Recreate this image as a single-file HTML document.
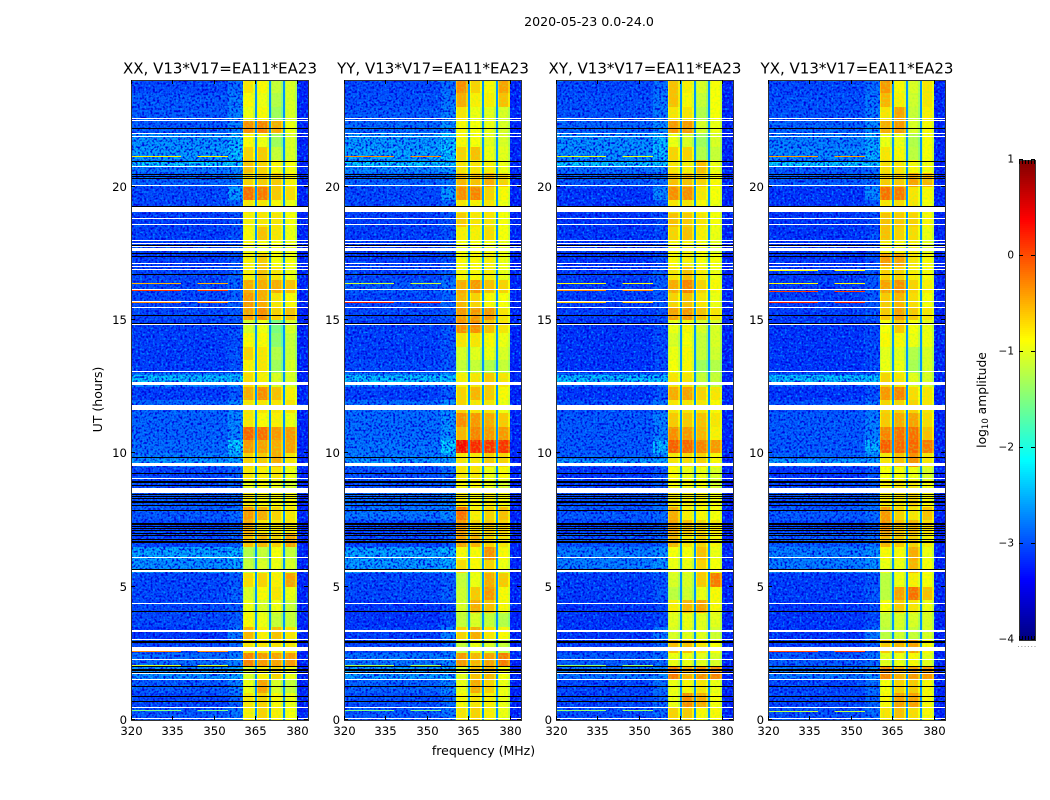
<!DOCTYPE html>
<html>
<head>
<meta charset="utf-8">
<title>2020-05-23 0.0-24.0</title>
<style>
html,body{margin:0;padding:0;background:#fff;width:1050px;height:800px;overflow:hidden}
svg{display:block}
text{font-family:"DejaVu Sans","Liberation Sans",sans-serif;fill:#000}
.tick{font-size:11.7px}
.ptitle{font-size:15px;text-anchor:middle}
</style>
</head>
<body>
<svg id="chart" width="1050" height="800" viewBox="0 0 1050 800" xmlns="http://www.w3.org/2000/svg">
<defs>
<filter id="speckle-light" x="0" y="0" width="1" height="1" color-interpolation-filters="sRGB">
<feTurbulence type="fractalNoise" baseFrequency="0.47" numOctaves="1" seed="3"/>
<feColorMatrix type="matrix" values="0 0 0 0 0  0 0 0 0 .55  0 0 0 0 1  4 0 0 0 -2.1"/>
</filter>
<filter id="speckle-dark" x="0" y="0" width="1" height="1" color-interpolation-filters="sRGB">
<feTurbulence type="fractalNoise" baseFrequency="0.47" numOctaves="1" seed="11"/>
<feColorMatrix type="matrix" values="0 0 0 0 0  0 0 0 0 0  0 0 0 0 .85  0 4 0 0 -1.8"/>
</filter>
<filter id="speckle-band" x="0" y="0" width="1" height="1" color-interpolation-filters="sRGB">
<feTurbulence type="fractalNoise" baseFrequency="0.47" numOctaves="1" seed="23"/>
<feColorMatrix type="matrix" values="0 0 0 0 .6  0 0 0 0 1  0 0 0 0 .2  1.3 0 0 0 -.58"/>
</filter>
</defs>
<text x="589" y="26" font-size="12.6" text-anchor="middle">2020-05-23 0.0-24.0</text>
<text x="483.5" y="755" font-size="12.5" text-anchor="middle">frequency (MHz)</text>
<text transform="translate(102,399.5) rotate(-90)" font-size="12.5" text-anchor="middle">UT (hours)</text>
<text transform="translate(986,400) rotate(-90)" font-size="12.3" text-anchor="middle">log<tspan font-size="8.5" dy="2">10</tspan><tspan dy="-2"> amplitude</tspan></text>
<g id="panels"></g>
<g id="colorbar"></g>
</svg>
<script>
// Each level array holds log10 amplitude per half-hour bin, from 0 UT upward.
const xxBackground=[-2.9,-3,-2.9,-2.6,-2.8,-3,-3.1,-3,-3,-3,-3,-2.6,-2.5,-3,-3,-2.9,-2.9,-3,-3,-2.7,-2.8,-2.85,-2.85,-2.85,-3.05,-2.7,-3.05,-3.05,-3.05,-3.05,-3,-3,-3,-3,-3.05,-3.05,-3.05,-3.05,-3,-3,-2.85,-2.75,-2.55,-2.6,-2.9,-2.9,-2.9,-3];
const xxBand1=[-.75,-.7,-.9,-1,-.2,-.7,-.45,-.8,-.9,-1,-.65,-1.1,-1.2,-.5,-.4,-.3,-.7,-.9,-.7,-.6,-.3,-.05,-.7,-.7,-.4,-.65,-.75,-.6,-.8,-1,-.35,-.3,-.4,-.75,-.75,-.8,-.8,-.75,-.7,-.1,-.6,-.5,-.6,-.8,-.25,-.9,-.8,-.7];
const xxBand2=[-.6,-.6,-.35,-.75,-.3,-.7,-.75,-.9,-1,-.8,-.6,-1,-1.1,-.45,-.7,-.4,-.8,-.8,-.75,-.55,-.35,-.1,-.8,-.7,-.25,-.75,-.7,-.7,-.8,-.9,-.25,-.4,-.4,-.5,-.55,-.85,-.5,-.7,-.7,-.15,-.55,-.6,-.55,-.9,-.2,-.8,-.9,-.8];
const xxBand3=[-.75,-.8,-1,-.6,-.35,-.7,-.5,-1.1,-.9,-.7,-.75,-.9,-.85,-.6,-.7,-.6,-.8,-.9,-.7,-.4,-.4,-.3,-.75,-.7,-.5,-1,-1.3,-1.2,-1.4,-1.5,-.6,-.7,-.4,-.7,-.85,-.85,-.7,-.7,-.8,-.55,-.55,-.8,-1.1,-1.3,-.4,-1.3,-1.2,-1.1];
const xxBand4=[-.85,-.9,-1.1,-.9,-.3,-.7,-.7,-1.1,-1.1,-.9,-.35,-1,-1.1,-.35,-.7,-.7,-.8,-1,-.9,-.7,-.35,-.3,-.9,-.7,-.75,-1,-1,-1.1,-1.1,-1,-.5,-.8,-.5,-.9,-.85,-.9,-.9,-.85,-.9,-.65,-.75,-.85,-1,-1,-.9,-1,-1,-1];

const yyBackground=[-2.9,-2.95,-2.85,-2.55,-2.75,-3,-3.05,-3.1,-3.1,-3,-3,-2.55,-2.5,-3,-3,-2.75,-2.8,-2.95,-2.95,-2.7,-2.75,-2.8,-2.8,-2.8,-3.05,-2.7,-3,-3.05,-3.05,-3.05,-3,-3,-2.9,-3,-3.05,-3.05,-3.05,-3.05,-3,-3,-2.85,-2.65,-2.5,-2.55,-2.8,-2.9,-2.95,-3];
const yyBand1=[-.7,-.8,-.9,-.95,-.3,-1.1,-.6,-1.1,-1,-1.05,-1.1,-.65,-.8,-.35,-.3,-.1,-.7,-.8,-.7,-.7,.45,-.45,-.25,-.6,-.6,-.75,-1.1,-1,-.7,-.25,-.3,-.45,-.4,-.8,-.8,-.85,-.75,-.55,-.7,-.25,-.45,-.7,-.6,-.8,-.8,-.7,-.4,-.25];
const yyBand2=[-.6,-.7,-.4,-.5,-.45,-.9,-.4,-1,-.4,-.55,-.9,-.8,-.8,-.45,-.6,-.75,-.8,-.8,-.7,-.7,.25,-.2,-.3,-.7,-.45,-.7,-1.1,-.95,-.7,-.25,-.3,-.6,-.3,-.8,-.8,-.85,-.75,-.7,-.75,-.2,-.5,-.7,-.5,-.85,-.85,-.9,-.75,-.6];
const yyBand3=[-.75,-.75,-.6,-.45,-.35,-1,-.7,-1.1,-.5,-.3,-.4,-.6,-.25,-.6,-.55,-.6,-.75,-.9,-.9,-.55,.2,-.3,-.4,-.7,-.55,-.55,-1.2,-.9,-.8,-.5,-.3,-.8,-.5,-.75,-.75,-.85,-.65,-.7,-.7,-.6,-.4,-.75,-.9,-.95,-.9,-.95,-.75,-.8];
const yyBand4=[-.9,-.9,-.9,-.85,-.15,-1.1,-.8,-1.2,-.8,-.8,-.55,-.9,-.8,-.7,-.6,-.5,-.8,-1,-.8,-.6,.2,-.3,-.55,-.9,-.8,-.7,-1.1,-1,-.9,-.7,-.7,-.85,-.6,-.9,-.9,-.9,-.85,-.85,-.9,-.8,-.6,-.9,-.95,-1,-1,-1,-.5,-.35];

const xyBackground=[-2.95,-3,-3,-2.75,-2.9,-3.05,-3.1,-3.1,-3.1,-3.05,-3.05,-2.7,-2.7,-2.95,-3,-2.9,-2.95,-3.05,-3.1,-2.85,-2.9,-2.9,-2.9,-2.95,-3.1,-2.85,-3.1,-3.1,-3.1,-3.1,-3.05,-3.05,-3.05,-3.05,-3.1,-3.1,-3.1,-3.1,-3.1,-3.1,-2.9,-2.8,-2.6,-2.6,-2.85,-2.95,-2.95,-3];
const xyBand1=[-.6,-.9,-.9,-.15,-.9,-.5,-1,-.95,-.75,-1.15,-1,-.9,-.85,-.45,-.35,-.4,-.7,-.8,-.8,-.7,0,-.25,-.55,-.7,-.4,-.7,-.85,-.9,-1,-.9,-.35,-.6,-.4,-.7,-.8,-.8,-.6,-.5,-.7,-.25,-.5,-.7,-.6,-.9,-.3,-.7,-.5,-.5];
const xyBand2=[-.55,-.25,-.8,-.4,-.9,-.5,-.95,-.9,-.45,-1.05,-1,-.9,-.85,-.7,-.5,-.75,-.75,-.8,-.9,-.65,-.05,-.3,-.55,-.7,-.35,-.7,-.8,-.8,-.85,-.8,-.3,-.5,-.2,-.5,-.75,-.8,-.5,-.55,-.7,-.25,-.5,-.75,-.6,-1,-.3,-.7,-.8,-.75];
const xyBand3=[-.8,-.4,-.7,-.25,-.95,-.7,-.95,-.95,-.35,-.9,-.55,-.6,-.5,-.6,-.6,-.8,-.75,-.85,-.9,-.6,-.2,-.45,-.5,-.7,-.6,-1.1,-1.3,-1.1,-1.1,-1,-.5,-.7,-.6,-.75,-.85,-.85,-.75,-.7,-.8,-.7,-.6,-.5,-1.2,-1.3,-1,-1.2,-1.1,-1];
const xyBand4=[-.8,-.85,-.9,-.2,-1,-.85,-1.05,-.95,-.8,-.8,-.15,-.85,-.9,-.8,-.7,-.85,-.85,-1,-1,-.8,-.3,-.75,-.7,-.8,-.7,-1.1,-1.2,-1.05,-1,-1,-.7,-.9,-.8,-.9,-.85,-.95,-.9,-.85,-.9,-.85,-.8,-.9,-1.1,-1,-.9,-.85,-.85,-.85];

const yxBackground=[-2.95,-3,-3,-2.75,-2.9,-3.05,-3.1,-3.1,-3.1,-3.05,-3.05,-2.7,-2.7,-2.9,-3,-2.9,-2.95,-3.05,-3.1,-2.85,-2.9,-2.9,-2.9,-2.95,-3.1,-2.9,-3.1,-3.1,-3.1,-3.1,-3.05,-3.05,-3.05,-3.05,-3.1,-3.1,-3.1,-3.1,-3.1,-3.1,-2.9,-2.9,-2.65,-2.7,-2.85,-2.95,-2.95,-3];
const yxBand1=[-.7,-.8,-.85,-.2,-.95,-.55,-1.15,-1.1,-.85,-1.15,-1.15,-.9,-.8,-.45,-.25,-.3,-.7,-.75,-.85,-.7,0,-.2,-.55,-.6,-.3,-.6,-.9,-.95,-.8,-.85,-.55,-.55,-.35,-.6,-.3,-.75,-.5,-.5,-.7,-.1,-.55,-.65,-.7,-.9,-.4,-.7,-.45,-.3];
const yxBand2=[-.5,-.35,-.6,-.4,-.9,-.45,-1.05,-1,-.55,-.35,-.9,-.9,-.8,-.55,-.5,-.6,-.7,-.7,-.85,-.5,-.05,-.1,-.4,-.6,-.2,-.7,-.9,-.95,-.8,-.55,-.35,-.45,-.25,-.6,-.35,-.8,-.6,-.55,-.65,-.15,-.55,-.7,-.8,-.9,-.3,-.35,-.75,-.8];
const yxBand3=[-.65,-.35,-.55,-.3,-.8,-.35,-1.1,-1,-.7,-.1,-.75,-.45,-.4,-.6,-.45,-.7,-.6,-.7,-.9,-.25,-.05,-.1,-.35,-.6,-.65,-.95,-1.25,-1.2,-.9,-.85,-.55,-.65,-.6,-.75,-.7,-.75,-.65,-.6,-.7,-.7,-.35,-.8,-1.15,-1.2,-1,-1.1,-1.05,-1];
const yxBand4=[-.8,-.8,-.8,-.3,-.95,-.8,-1,-1,-.9,-.5,-.85,-.85,-.9,-.75,-.65,-.5,-.8,-.85,-1,-.7,-.15,-.5,-.65,-.7,-.7,-1,-1,-1,-.9,-.9,-.7,-.85,-.75,-.85,-.8,-.95,-.9,-.8,-.85,-.8,-.45,-.85,-.85,-.85,-.8,-.75,-.7,-.7];

const edgeLift=[.15,.15,.2,.1,.1,.2,.35,.1,.1,.15,.1,.1,.1,.1,.1,.1,.1,.15,.15,.2,.5,.2,.2,.2,.15,.1,.1,.1,.1,.1,.1,.15,.15,.15,.1,.1,.1,.1,.15,.45,.1,.1,.2,.2,.2,.2,.2,.2];
const gapLevel=-2.65;
const rightLevel=-3.2;
const bandRollOff=-.22;
const bandTrim=-.04;

const channelEdges=[320,355,360.4,361,364.2,364.8,365.5,366.1,369.2,369.8,370.5,371.1,374.3,374.9,375.6,376.2,379.3,379.9,384];
const channelKinds=['bg','edge',0,0,0,'gap',1,1,1,'gap',2,2,2,'gap',3,3,3,'right'];
const channelRolled=[0,0,1,0,1,0,1,0,1,0,1,0,1,0,1,0,1,0];
const stripStartHours=[9.55,12.68,20.78];
const stripEndHours=[9.8,12.95,20.93];
const stripLevels=[-2.55,-2.35,-2.3];
const whiteFlags=[[.04,.08],[.45,.49],[1.5,1.54],[1.73,1.77],[2.25,2.29],[2.58,2.75],[3,3.04],[3.3,3.39],[4.35,4.39],[5.55,5.63],[6.08,6.12],[8.52,8.7],[9.04,9.08],[9.53,9.63],[11.62,11.82],[12.58,12.62],[12.65,12.69],[13.04,13.08],[14.82,14.86],[15.45,15.49],[15.67,15.71],[16.12,16.16],[16.88,16.92],[16.98,17.02],[17.1,17.14],[17.6,17.7],[17.74,17.78],[17.85,17.89],[17.97,18.01],[18.57,18.61],[18.79,18.83],[19.05,19.22],[20.03,20.07],[20.73,20.77],[21.87,21.91],[21.98,22.02],[22.45,22.49],[22.53,22.57]];
const blackFlags=[[.66,.73],[.87,.91],[1.24,1.28],[1.76,1.79],[1.83,1.86],[1.9,1.93],[1.98,2.02],[2.9,2.98],[4.05,4.09],[5.64,5.68],[6.62,6.72],[6.76,6.8],[6.9,6.94],[6.98,7.02],[7.08,7.12],[7.15,7.19],[7.23,7.27],[7.31,7.37],[7.84,7.88],[8.04,8.08],[8.12,8.16],[8.19,8.23],[8.28,8.32],[8.37,8.41],[8.44,8.48],[8.76,8.8],[8.87,8.91],[8.94,8.98],[9.22,9.26],[9.81,9.88],[14.85,14.89],[15.14,15.18],[16.69,16.73],[17.37,17.41],[17.49,17.53],[17.77,17.8],[19.22,19.27],[20.27,20.31],[20.35,20.39],[20.43,20.47],[20.92,20.96],[22.15,22.19]];
const xxRfiHours=[.37,2.06,2.6,15.68,16.12,16.38,16.9,21.15];
const xxRfiLevels=[-1.5,-1.1,-.3,-.3,.1,-.5,.05,-.8];
const yyRfiHours=[.37,2.05,2.62,15.68,16.38,16.9,21.15];
const yyRfiLevels=[-1.5,-1.3,.1,.2,-1.1,-1.2,-.3];
const xyRfiHours=[.37,2.05,2.62,15.68,16.12,16.38,16.9,21.15];
const xyRfiLevels=[-1.4,-1.4,-.6,-.6,-.3,-.9,-.5,-1];
const yxRfiHours=[.35,2.04,2.57,15.69,16.1,16.37,16.87,21.14];
const yxRfiLevels=[-1.2,-1.4,.05,.2,.1,-.9,-.9,-.4];
const rfiStartMHz=[320,344];
const rfiEndMHz=[338,355];
const xTickValues=[320,335,350,365,380];
const yTickValues=[0,5,10,15,20];
const colorbarTickValues=[1,0,-1,-2,-3,-4];

const binHours=.5;
const svgNS='http://www.w3.org/2000/svg';
const plotTop=80,plotBottom=720,plotWidth=177;
const panels=[
 {key:'xx',title:'XX, V13*V17=EA11*EA23',left:131,bg:xxBackground,bands:[xxBand1,xxBand2,xxBand3,xxBand4],rfiH:xxRfiHours,rfiL:xxRfiLevels},
 {key:'yy',title:'YY, V13*V17=EA11*EA23',left:344,bg:yyBackground,bands:[yyBand1,yyBand2,yyBand3,yyBand4],rfiH:yyRfiHours,rfiL:yyRfiLevels},
 {key:'xy',title:'XY, V13*V17=EA11*EA23',left:556,bg:xyBackground,bands:[xyBand1,xyBand2,xyBand3,xyBand4],rfiH:xyRfiHours,rfiL:xyRfiLevels},
 {key:'yx',title:'YX, V13*V17=EA11*EA23',left:768,bg:yxBackground,bands:[yxBand1,yxBand2,yxBand3,yxBand4],rfiH:yxRfiHours,rfiL:yxRfiLevels}
];

function jet(v){
 const t=Math.max(0,Math.min(1,(v+4)/5));
 const ramp=x=>Math.round(255*Math.max(0,Math.min(1,1.5-Math.abs(4*t-x))));
 return 'rgb('+ramp(3)+','+ramp(2)+','+ramp(1)+')';
}
function yScale(h){return plotBottom-h*(plotBottom-plotTop)/24;}
function xScale(f,p){return p.left+(f-320)*plotWidth/64;}
function make(tag,attrs,parent){
 const el=document.createElementNS(svgNS,tag);
 for(const k in attrs)el.setAttribute(k,attrs[k]);
 parent.appendChild(el);
 return el;
}
function levelFor(p,col,row){
 const kind=channelKinds[col];
 if(kind==='bg')return p.bg[row];
 if(kind==='edge')return p.bg[row]+edgeLift[row];
 if(kind==='gap')return gapLevel;
 if(kind==='right')return rightLevel;
 return p.bands[kind][row]+bandTrim+(channelRolled[col]?bandRollOff:0);
}
function flagRow(g,p,flag,color,name){
 const y1=Math.round(yScale(flag[1]));
 const y2=Math.round(yScale(flag[0]));
 const r=make('rect',{x:p.left,y:y1,width:plotWidth,height:Math.max(1,y2-y1),fill:color,'shape-rendering':'crispEdges'},g);
 
 
}
const root=document.getElementById('panels');
panels.forEach(function(p){
 const g=make('g',{},root);
 
 
 const rows=p.bg.length;
 for(let row=0;row<rows;row++){
  const y1=Math.round(yScale((row+1)*binHours));
  const y2=Math.round(yScale(row*binHours));
  for(let col=0;col<channelEdges.length-1;col++){
   const x1=Math.round(xScale(channelEdges[col],p));
   const x2=Math.round(xScale(channelEdges[col+1],p));
   const c=make('rect',{x:x1,y:y1,width:x2-x1,height:y2-y1,fill:jet(levelFor(p,col,row)),'shape-rendering':'crispEdges'},g);
   
   
  }
 }
 const bx=Math.round(xScale(320,p)),bw=Math.round(xScale(360.4,p))-bx,rx=Math.round(xScale(379.9,p)),rw=Math.round(xScale(384,p))-rx;
 stripLevels.forEach(function(level,i){
  const y1=Math.round(yScale(stripEndHours[i]));
  const y2=Math.round(yScale(stripStartHours[i]));
  const s=make('rect',{x:bx,y:y1,width:bw,height:y2-y1,fill:jet(level),'shape-rendering':'crispEdges'},g);
  
  
 });
 [[bx,bw],[rx,rw]].forEach(function(s){
  ['speckle-dark','speckle-light'].forEach(function(id){
   const n=make('rect',{x:s[0],y:plotTop,width:s[1],height:plotBottom-plotTop,fill:'#000',filter:'url(#'+id+')'},g);
   
   
  });
 });
 [[360.4,364.8],[365.5,369.8],[370.5,374.9],[375.6,379.9]].forEach(function(s){
  const x1=Math.round(xScale(s[0],p)),x2=Math.round(xScale(s[1],p));
  const n=make('rect',{x:x1,y:plotTop,width:x2-x1,height:plotBottom-plotTop,fill:'#000',filter:'url(#speckle-band)'},g);
  
  
 });
 p.rfiH.forEach(function(h,i){
  rfiStartMHz.forEach(function(start,j){
   const x1=xScale(start,p);
   const r=make('rect',{x:x1,y:Math.round(yScale(h)),width:xScale(rfiEndMHz[j],p)-x1,height:1,fill:jet(p.rfiL[i]),'shape-rendering':'crispEdges'},g);
   
   
  });
 });
 whiteFlags.forEach(function(f){flagRow(g,p,f,'#fff','flagged-row-white');});
 blackFlags.forEach(function(f){flagRow(g,p,f,'#000','flagged-row-black');});
 const frame=make('rect',{x:p.left+.5,y:plotTop+.5,width:plotWidth,height:plotBottom-plotTop,fill:'none',stroke:'#333','stroke-width':1,'shape-rendering':'crispEdges'},g);
 
 
 xTickValues.forEach(function(v){
  const x=Math.round(xScale(v,p))+.5;
  [[plotBottom,plotBottom-4],[plotTop,plotTop+4]].forEach(function(t){
   const l=make('line',{x1:x,x2:x,y1:t[0],y2:t[1],stroke:'#000'},g);
   
   
  });
  const lab=make('text',{x:x,y:plotBottom+15,'text-anchor':'middle',class:'tick'},g);
  
  
  lab.textContent=v;
 });
 yTickValues.forEach(function(v){
  const y=Math.round(yScale(v))-.5;
  [[p.left,p.left+4],[p.left+plotWidth,p.left+plotWidth-4]].forEach(function(t){
   const l=make('line',{x1:t[0],x2:t[1],y1:y,y2:y,stroke:'#000'},g);
   
   
  });
  const lab=make('text',{x:p.left-4,y:y+4.5,'text-anchor':'end',class:'tick'},g);
  
  
  lab.textContent=v;
 });
 const title=make('text',{x:p.left+plotWidth/2+.5,y:73.5,class:'ptitle'},g);
 
 
 title.textContent=p.title;
});

const cb=document.getElementById('colorbar');
const cbLeft=1019,cbWidth=16,cbTop=160,cbBottom=640;
function cbY(v){return cbBottom-(v+4)*(cbBottom-cbTop)/5;}
for(let y=cbTop;y<cbBottom;y+=2){
 const s=make('rect',{x:cbLeft,y:y,width:cbWidth,height:2,fill:jet(-4+(cbBottom-y-1)*5/(cbBottom-cbTop)),'shape-rendering':'crispEdges'},cb);
 
 
}
const cbFrame=make('rect',{x:cbLeft+.5,y:cbTop+.5,width:cbWidth,height:cbBottom-cbTop,fill:'none',stroke:'#333','shape-rendering':'crispEdges'},cb);


colorbarTickValues.forEach(function(v){
 const y=cbY(v)-.5;
 [[cbLeft,cbLeft+4],[cbLeft+cbWidth,cbLeft+cbWidth-4]].forEach(function(t){
  const l=make('line',{x1:t[0],x2:t[1],y1:y,y2:y,stroke:'#000'},cb);
  
  
 });
 const lab=make('text',{x:cbLeft-5,y:y+3,'text-anchor':'end','font-size':'10.5'},cb);
 
 
 lab.textContent=String(v).replace('-','\u2212');
});
for(let i=0;i<6;i++){
 const x=cbLeft+.5+i*3;
 [[cbTop,cbTop+4],[cbBottom,cbBottom-4]].forEach(function(t){
  const l=make('line',{x1:x,x2:x,y1:t[0],y2:t[1],stroke:'#000'},cb);
  
  
 });
 const d=make('rect',{x:cbLeft-1+i*3.3,y:646,width:1,height:1,fill:'#999'},cb);
 
 
}
</script>
</body>
</html>
